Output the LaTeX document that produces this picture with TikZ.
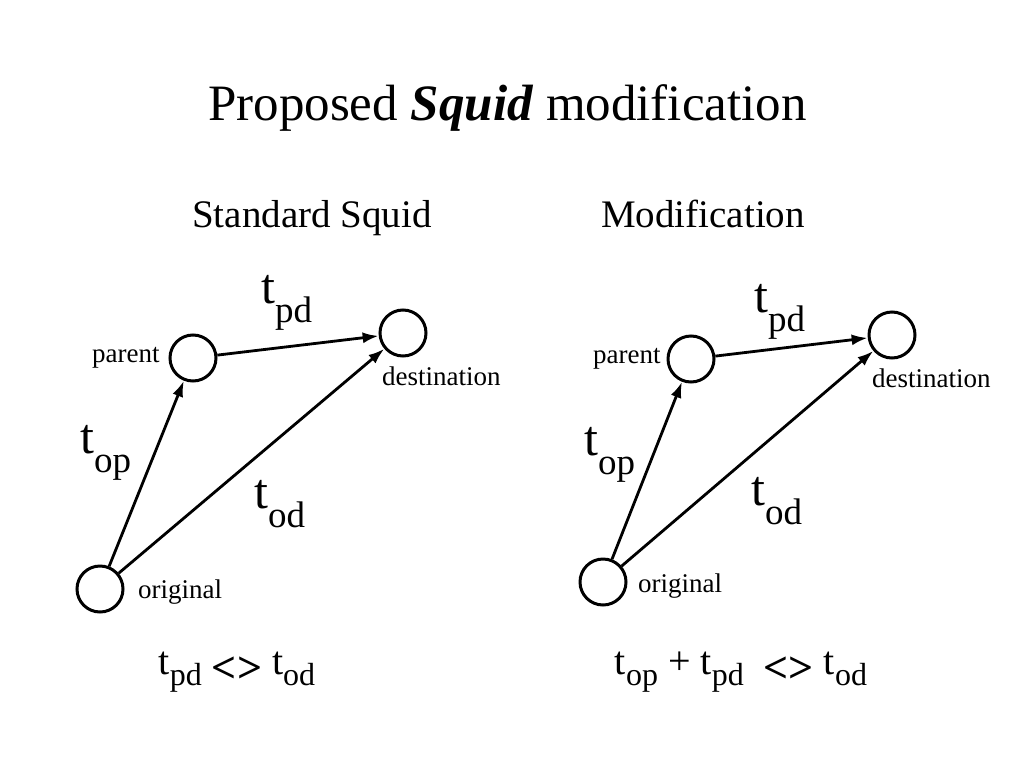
\documentclass[tikz,border=0pt]{standalone}
\usepackage{fontspec}
\setmainfont{Liberation Serif}
\usetikzlibrary{arrows.meta}
\tikzset{
  site/.style={circle, draw, line width=3pt, minimum size=46pt, inner sep=0pt},
  link/.style={line width=2.8pt, -{Latex[length=16pt, width=11pt]}},
  tag/.style={inner sep=0pt, anchor=base west, font=\fontsize{27}{27}\selectfont},
  lat/.style={inner sep=0pt, anchor=base west, font=\fontsize{50}{50}\selectfont},
  rel/.style={inner sep=0pt, anchor=base, font=\fontsize{40}{40}\selectfont}
}
\newcommand{\tsub}[1]{t\raisebox{-19pt}{\fontsize{37}{37}\selectfont #1}}
\newcommand{\tlow}[1]{t\raisebox{-11pt}{\fontsize{32}{32}\selectfont #1}}
\newcommand{\ltgt}{\raisebox{-8pt}{\fontsize{44}{44}\selectfont\bfseries <>}}

\begin{document}
\begin{tikzpicture}[x=1pt, y=-1pt]

\useasboundingbox (0,0) rectangle (1024,768);

% headings
\node[inner sep=0pt, anchor=base, font=\fontsize{51}{51}\selectfont] (head) at (507.5,120) {Proposed \textbf{\textit{Squid}} modification};
\node[inner sep=0pt, anchor=base, font=\fontsize{39}{39}\selectfont] (stdhead) at (312,227) {Standard Squid};
\node[inner sep=0pt, anchor=base, font=\fontsize{39}{39}\selectfont] (modhead) at (703,227) {Modification};

% standard squid
\node[site] (o1) at (100,589) {};
\node[site] (p1) at (193,358) {};
\node[site] (d1) at (403,333) {};
\node[tag] (po1) at (92,362) {parent};
\node[tag] (do1) at (382,385) {destination};
\node[tag] (oo1) at (138,598) {original};
\draw[link] (o1)--(p1);
\draw[link] (p1)--(d1);
\draw[link] (o1)--(d1);
\node[lat] (tpd1) at (261,303) {\tsub{pd}};
\node[lat] (top1) at (80,453) {\tsub{op}};
\node[lat] (tod1) at (254,508) {\tsub{od}};

% modification
\node[site] (o2) at (603,582) {};
\node[site] (p2) at (691,359) {};
\node[site] (d2) at (892,335) {};
\node[tag] (po2) at (593,363) {parent};
\node[tag] (do2) at (872,387) {destination};
\node[tag] (oo2) at (638,592) {original};
\draw[link] (o2)--(p2);
\draw[link] (p2)--(d2);
\draw[link] (o2)--(d2);
\node[lat] (tpd2) at (754,312) {\tsub{pd}};
\node[lat] (top2) at (584,455) {\tsub{op}};
\node[lat] (tod2) at (751,505) {\tsub{od}};

% relations
\node[rel] (rel1) at (237,674) {\tlow{pd} \ltgt{} \tlow{od}};
\node[rel] (rel2) at (741,674) {\tlow{op} + \tlow{pd}\ \ \ltgt{} \tlow{od}};

\end{tikzpicture}
\end{document}
